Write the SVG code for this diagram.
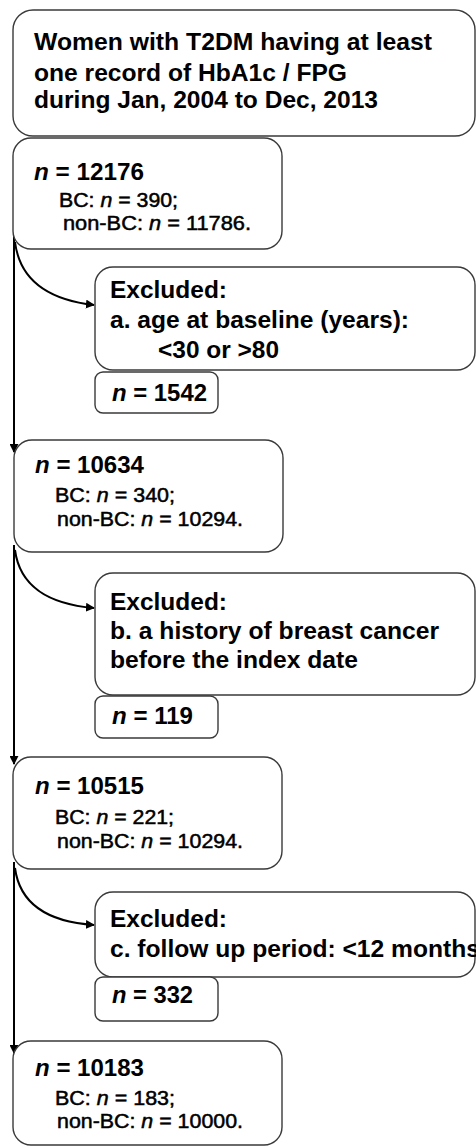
<svg xmlns="http://www.w3.org/2000/svg" width="476" height="1146" viewBox="0 0 476 1146">
<style>
.box{fill:#fff;stroke:#3a3a3a;stroke-width:1.4}
.t{font-family:"Liberation Sans",Arial,sans-serif;font-weight:bold;font-size:24px;fill:#000}
.s{font-family:"Liberation Sans",Arial,sans-serif;font-weight:normal;font-size:20px;fill:#000;stroke:#000;stroke-width:0.5}
.i{font-style:italic}
.ln{fill:none;stroke:#000;stroke-width:2}
</style>
<defs>
<marker id="ah" viewBox="0 0 10 10" refX="9" refY="5" markerWidth="9" markerHeight="9" markerUnits="userSpaceOnUse" orient="auto">
<path d="M0,0 L10,5 L0,10 z" fill="#000"/>
</marker>
</defs>
<rect width="476" height="1146" fill="#fff"/>
<g id="connectors">
<path class="ln" d="M14,232 L14,452" marker-end="url(#ah)"/>
<path class="ln" d="M14,545 L14,764" marker-end="url(#ah)"/>
<path class="ln" d="M14,862 L14,1053" marker-end="url(#ah)"/>
<path class="ln" d="M15,242 C20,282 50,300 94,305" marker-end="url(#ah)"/>
<path class="ln" d="M15,550 C20,588 50,604 94,608" marker-end="url(#ah)"/>
<path class="ln" d="M15,868 C20,906 50,922 94,925" marker-end="url(#ah)"/>
</g>
<g id="start">
<rect class="box" x="13" y="10" width="462" height="126" rx="20"/>
<text class="t" x="34" y="50" textLength="398" lengthAdjust="spacingAndGlyphs">Women with T2DM having at least</text>
<text class="t" x="34" y="81" textLength="313" lengthAdjust="spacingAndGlyphs">one record of HbA1c / FPG</text>
<text class="t" x="34" y="108" textLength="344" lengthAdjust="spacingAndGlyphs">during Jan, 2004 to Dec, 2013</text>
</g>
<g id="n12176">
<rect class="box" x="13" y="138" width="269" height="111" rx="18"/>
<text class="t" x="34" y="180" textLength="110" lengthAdjust="spacingAndGlyphs"><tspan class="i">n</tspan> = 12176</text>
<text class="s" x="59" y="207" textLength="119" lengthAdjust="spacingAndGlyphs">BC: <tspan class="i">n</tspan> = 390;</text>
<text class="s" x="63" y="230" textLength="188" lengthAdjust="spacingAndGlyphs">non-BC: <tspan class="i">n</tspan> = 11786.</text>
</g>
<g id="excl-a">
<rect class="box" x="95" y="267" width="380" height="103" rx="18"/>
<text class="t" x="110" y="298" textLength="117" lengthAdjust="spacingAndGlyphs">Excluded:</text>
<text class="t" x="110" y="328" textLength="299" lengthAdjust="spacingAndGlyphs">a. age at baseline (years):</text>
<text class="t" x="158" y="358" textLength="121" lengthAdjust="spacingAndGlyphs">&lt;30 or &gt;80</text>
</g>
<g id="n1542">
<rect class="box" x="95" y="372" width="123" height="41" rx="8"/>
<text class="t" x="112" y="401" textLength="95" lengthAdjust="spacingAndGlyphs"><tspan class="i">n</tspan> = 1542</text>
</g>
<g id="n10634">
<rect class="box" x="14" y="440" width="269" height="112" rx="18"/>
<text class="t" x="35" y="473" textLength="109" lengthAdjust="spacingAndGlyphs"><tspan class="i">n</tspan> = 10634</text>
<text class="s" x="55" y="502" textLength="120" lengthAdjust="spacingAndGlyphs">BC: <tspan class="i">n</tspan> = 340;</text>
<text class="s" x="57" y="526" textLength="186" lengthAdjust="spacingAndGlyphs">non-BC: <tspan class="i">n</tspan> = 10294.</text>
</g>
<g id="excl-b">
<rect class="box" x="95" y="573" width="380" height="122" rx="18"/>
<text class="t" x="110" y="610" textLength="117" lengthAdjust="spacingAndGlyphs">Excluded:</text>
<text class="t" x="110" y="639" textLength="329" lengthAdjust="spacingAndGlyphs">b. a history of breast cancer</text>
<text class="t" x="110" y="668" textLength="248" lengthAdjust="spacingAndGlyphs">before the index date</text>
</g>
<g id="n119">
<rect class="box" x="95" y="696" width="123" height="42" rx="8"/>
<text class="t" x="112" y="724" textLength="81" lengthAdjust="spacingAndGlyphs"><tspan class="i">n</tspan> = 119</text>
</g>
<g id="n10515">
<rect class="box" x="13" y="757" width="269" height="112" rx="18"/>
<text class="t" x="35" y="794" textLength="109" lengthAdjust="spacingAndGlyphs"><tspan class="i">n</tspan> = 10515</text>
<text class="s" x="55" y="824" textLength="119" lengthAdjust="spacingAndGlyphs">BC: <tspan class="i">n</tspan> = 221;</text>
<text class="s" x="57" y="848" textLength="186" lengthAdjust="spacingAndGlyphs">non-BC: <tspan class="i">n</tspan> = 10294.</text>
</g>
<g id="excl-c">
<rect class="box" x="95" y="892" width="380" height="85" rx="18"/>
<text class="t" x="110" y="927" textLength="117" lengthAdjust="spacingAndGlyphs">Excluded:</text>
<text class="t" x="110" y="957" textLength="370" lengthAdjust="spacingAndGlyphs">c. follow up period: &lt;12 months</text>
</g>
<g id="n332">
<rect class="box" x="95" y="977" width="123" height="44" rx="8"/>
<text class="t" x="112" y="1003" textLength="81" lengthAdjust="spacingAndGlyphs"><tspan class="i">n</tspan> = 332</text>
</g>
<g id="n10183">
<rect class="box" x="13" y="1041" width="269" height="104" rx="18"/>
<text class="t" x="35" y="1076" textLength="109" lengthAdjust="spacingAndGlyphs"><tspan class="i">n</tspan> = 10183</text>
<text class="s" x="55" y="1105" textLength="120" lengthAdjust="spacingAndGlyphs">BC: <tspan class="i">n</tspan> = 183;</text>
<text class="s" x="57" y="1128" textLength="186" lengthAdjust="spacingAndGlyphs">non-BC: <tspan class="i">n</tspan> = 10000.</text>
</g>
</svg>
